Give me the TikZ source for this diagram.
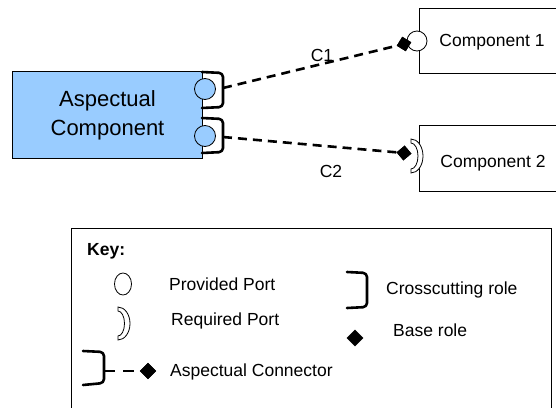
\documentclass[tikz,border=0pt]{standalone}
\usepackage{fontspec}
\setmainfont{Liberation Sans}
\usetikzlibrary{shapes.geometric}
\definecolor{aspblue}{RGB}{153,204,255}
\begin{document}
\begin{tikzpicture}[x=1pt,y=-1pt,
  lbl/.style={font=\fontsize{17.5}{20}\selectfont, inner sep=0pt},
  klbl/.style={font=\fontsize{17.5}{20}\selectfont, inner sep=0pt, anchor=west},
  rolebr/.style={line width=2.6pt, line cap=round, line join=round, rounded corners=4pt},
  conn/.style={line width=2.6pt, dash pattern=on 9pt off 6pt},
  baserole/.style={fill=black, inner sep=0pt, minimum size=10.5pt},
  thinline/.style={line width=0.8pt},
  port/.style={circle, draw, thinline, inner sep=0pt}]
\useasboundingbox (0,0) rectangle (556,407);
\clip (0,0) rectangle (556,407);

% aspectual component
\node[draw, fill=aspblue, line width=1pt, minimum width=190pt, minimum height=87pt,
      anchor=north west, inner sep=0pt, align=center,
      font=\fontsize{22}{29}\selectfont] (asp) at (12,71) {Aspectual\\Component};
\node[port, fill=aspblue, minimum size=21pt] (p1) at (205,89) {};
\node[port, fill=aspblue, minimum size=21pt] (p2) at (205,136) {};
\draw[rolebr] (202,72) -- (223,73) -- (223,107) -- (202,108);
\draw[rolebr] (202,118) -- (223,119) -- (223,152) -- (202,153);
\coordinate (r1) at (223,88);
\coordinate (r2) at (223,137);

% component 1
\node[draw, thinline, minimum width=160pt, minimum height=65pt, anchor=north west] (comp1) at (419,8) {};
\node[lbl] (comp1t) at (492,42) {Component 1};
\node[port, fill=white, minimum size=20pt] (pp1) at (417,41) {};

% component 2
\node[draw, thinline, minimum width=160pt, minimum height=66pt, anchor=north west] (comp2) at (419,125) {};
\node[lbl] (comp2t) at (493,163) {Component 2};
\draw[thinline, fill=white] (411,139) arc[start angle=90, end angle=-90, x radius=12pt, y radius=17pt]
  -- (411,169) arc[start angle=-90, end angle=90, x radius=7pt, y radius=13pt] -- cycle;

% connectors with base-role diamonds
\node[baserole, rotate=58.6] (d1) at (404,44) {};
\node[baserole, rotate=40] (d2) at (404,153) {};
\draw[conn] (r1) -- (d1.center);
\draw[conn] (r2) -- (d2.center);
\node[baserole, rotate=58.6] at (404,44) {};
\node[baserole, rotate=40] at (404,153) {};
\node[lbl] (c1) at (322,55) {C1};
\node[lbl] (c2) at (331,171) {C2};

% key
\node[draw, thinline, minimum width=480pt, minimum height=200pt, anchor=north west] (key) at (71,228) {};
\node[klbl, font=\fontsize{17.5}{20}\selectfont\bfseries] (keyt) at (87,251) {Key:};

\node[ellipse, draw, thinline, minimum width=17pt, minimum height=22pt, inner sep=0pt] (kprov) at (123,284) {};
\node[klbl] (kprovt) at (169,284) {Provided Port};

\draw[thinline, fill=white] (118,307) arc[start angle=90, end angle=-90, x radius=12pt, y radius=16.5pt]
  -- (118,336) arc[start angle=-90, end angle=90, x radius=6.5pt, y radius=12.5pt] -- cycle;
\node[klbl] (kreqt) at (171,321) {Required Port};

\draw[rolebr] (347,272) -- (367,273) -- (367,307) -- (347,308);
\node[klbl] (kcrosst) at (386,290) {Crosscutting role};

\node[baserole, minimum size=12pt, rotate=45] (kbase) at (355,338) {};
\node[klbl] (kbaset) at (393,330) {Base role};

\draw[rolebr] (83,351) -- (104,352) -- (104,383) -- (83,385);
\coordinate (kc1) at (104,371);
\node[baserole, minimum size=11.5pt, rotate=45] (kc2) at (148,371) {};
\draw[line width=2.6pt, dash pattern=on 11pt off 8pt] (kc1) -- (kc2.center);
\node[baserole, minimum size=11.5pt, rotate=45] at (148,371) {};
\node[klbl] (kconnt) at (170,372) {Aspectual Connector};
\end{tikzpicture}
\end{document}
